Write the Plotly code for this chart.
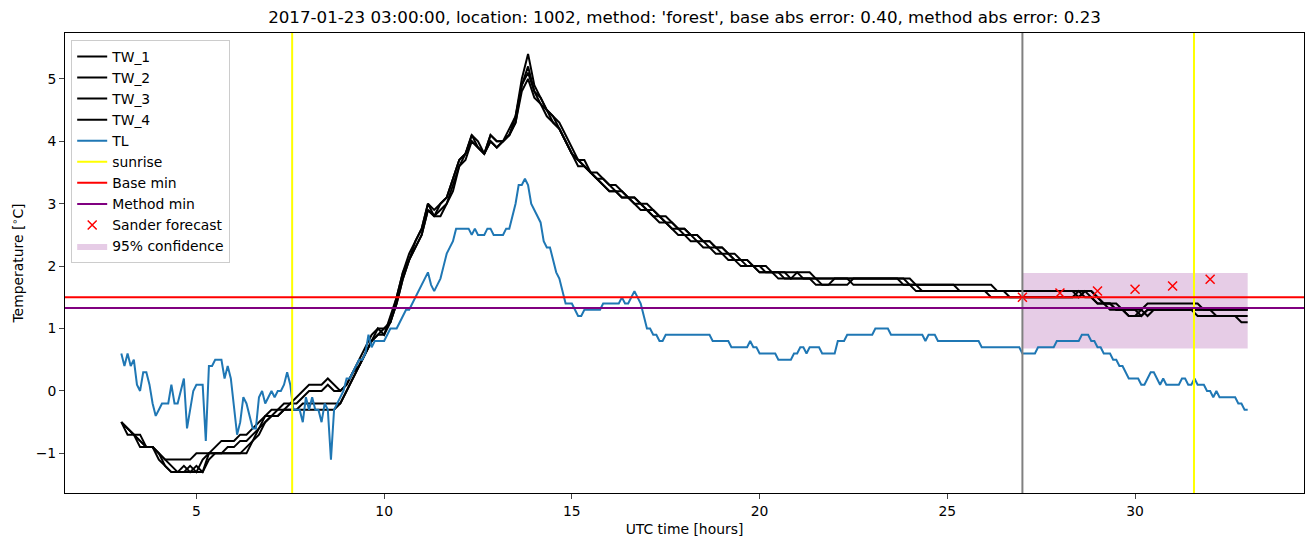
import numpy as np
import plotly.graph_objects as go

# ---------------- data ----------------
# TL: 5-minute samples from 3:00 to 33:00 (one row per hour)
tl_rows = [
    [0.6, 0.4, 0.6, 0.4, 0.5, 0.1, 0.0, 0.3, 0.3, 0.1, -0.2, -0.4],
    [-0.3, -0.2, -0.2, -0.2, 0.1, -0.2, -0.2, 0.0, 0.2, -0.6, -0.3, 0.0],
    [0.1, 0.1, 0.1, -0.8, 0.4, 0.4, 0.5, 0.5, 0.5, 0.2, 0.4, 0.2],
    [-0.3, -0.7, -0.5, -0.1, -0.2, -0.4, -0.6, -0.6, -0.1, 0.0, -0.2, -0.1],
    [0.0, -0.1, 0.0, 0.0, 0.1, 0.3, 0.1, -0.3, -0.3, -0.3, -0.5, -0.1],
    [-0.3, -0.1, -0.3, -0.3, -0.5, -0.2, -0.3, -1.1, -0.3, -0.2, -0.1, 0.0],
    [0.2, 0.2, 0.3, 0.4, 0.5, 0.5, 0.6, 0.9, 0.7, 0.8, 0.8, 0.8],
    [0.8, 0.9, 1.0, 1.0, 1.0, 1.1, 1.2, 1.3, 1.3, 1.4, 1.5, 1.6],
    [1.7, 1.8, 1.9, 1.7, 1.6, 1.7, 1.8, 2.0, 2.2, 2.3, 2.4, 2.6],
    [2.6, 2.6, 2.6, 2.6, 2.5, 2.6, 2.5, 2.5, 2.5, 2.6, 2.6, 2.5],
    [2.5, 2.5, 2.5, 2.6, 2.6, 2.8, 3.0, 3.3, 3.3, 3.4, 3.3, 3.0],
    [2.9, 2.8, 2.7, 2.4, 2.3, 2.3, 2.1, 1.9, 1.8, 1.6, 1.4, 1.4],
    [1.4, 1.3, 1.2, 1.2, 1.3, 1.3, 1.3, 1.3, 1.3, 1.3, 1.4, 1.4],
    [1.4, 1.4, 1.4, 1.4, 1.5, 1.4, 1.4, 1.5, 1.6, 1.5, 1.4, 1.2],
    [1.0, 1.0, 0.9, 0.9, 0.8, 0.8, 0.9, 0.9, 0.9, 0.9, 0.9, 0.9],
    [0.9, 0.9, 0.9, 0.9, 0.9, 0.9, 0.9, 0.9, 0.9, 0.8, 0.8, 0.8],
    [0.8, 0.8, 0.8, 0.7, 0.7, 0.7, 0.7, 0.7, 0.7, 0.8, 0.7, 0.7],
    [0.6, 0.6, 0.6, 0.6, 0.6, 0.6, 0.5, 0.5, 0.5, 0.5, 0.5, 0.6],
    [0.6, 0.7, 0.7, 0.6, 0.7, 0.7, 0.7, 0.7, 0.6, 0.6, 0.6, 0.6],
    [0.6, 0.8, 0.8, 0.8, 0.9, 0.9, 0.9, 0.9, 0.9, 0.9, 0.9, 0.9],
    [0.9, 1.0, 1.0, 1.0, 1.0, 1.0, 0.9, 0.9, 0.9, 0.9, 0.9, 0.9],
    [0.9, 0.9, 0.9, 0.9, 0.9, 0.8, 0.9, 0.9, 0.9, 0.8, 0.8, 0.8],
    [0.8, 0.8, 0.8, 0.8, 0.8, 0.8, 0.8, 0.8, 0.8, 0.8, 0.8, 0.7],
    [0.7, 0.7, 0.7, 0.7, 0.7, 0.7, 0.7, 0.7, 0.7, 0.7, 0.7, 0.7],
    [0.6, 0.6, 0.6, 0.6, 0.6, 0.7, 0.7, 0.7, 0.7, 0.7, 0.7, 0.8],
    [0.8, 0.8, 0.8, 0.8, 0.8, 0.8, 0.8, 0.9, 0.9, 0.9, 0.8, 0.8],
    [0.7, 0.7, 0.6, 0.6, 0.6, 0.5, 0.5, 0.4, 0.4, 0.3, 0.2, 0.2],
    [0.2, 0.2, 0.1, 0.1, 0.2, 0.3, 0.3, 0.2, 0.1, 0.2, 0.1, 0.1],
    [0.1, 0.1, 0.1, 0.2, 0.2, 0.1, 0.1, 0.2, 0.1, 0.1, 0.1, 0.0],
    [0.0, -0.1, 0.0, -0.1, -0.1, -0.1, -0.1, -0.1, -0.1, -0.2, -0.2, -0.3],
    [-0.3],
]

# TW_1..TW_4: 10-minute samples from 3:00 to 33:00 (one row per hour)
tw1_rows = [
    [-0.5, -0.6, -0.7, -0.8, -0.9, -0.9], [-1.0, -1.1, -1.1, -1.1, -1.1, -1.1],
    [-1.0, -1.0, -1.0, -0.9, -0.8, -0.8], [-0.8, -0.7, -0.7, -0.6, -0.5, -0.4],
    [-0.3, -0.3, -0.2, -0.2, -0.1, 0.0], [0.1, 0.1, 0.1, 0.2, 0.1, 0.0],
    [0.1, 0.3, 0.5, 0.7, 0.9, 1.0], [1.0, 1.1, 1.5, 1.9, 2.2, 2.4],
    [2.6, 3.0, 2.9, 3.0, 3.1, 3.4], [3.7, 3.8, 4.1, 4.0, 3.8, 4.1],
    [4.0, 4.0, 4.1, 4.4, 5.0, 5.4], [4.9, 4.7, 4.5, 4.4, 4.2, 4.0],
    [3.8, 3.7, 3.6, 3.5, 3.4, 3.3], [3.2, 3.2, 3.1, 3.1, 3.0, 3.0],
    [2.9, 2.8, 2.8, 2.7, 2.6, 2.6], [2.5, 2.5, 2.4, 2.4, 2.3, 2.3],
    [2.2, 2.2, 2.1, 2.1, 2.0, 2.0], [1.9, 1.9, 1.9, 1.9, 1.8, 1.8],
    [1.8, 1.8, 1.8, 1.8, 1.7, 1.7], [1.7, 1.7, 1.7, 1.8, 1.8, 1.8],
    [1.8, 1.8, 1.8, 1.8, 1.8, 1.7], [1.7, 1.7, 1.7, 1.7, 1.7, 1.7],
    [1.7, 1.7, 1.6, 1.6, 1.6, 1.6], [1.6, 1.6, 1.6, 1.6, 1.5, 1.5],
    [1.5, 1.5, 1.5, 1.5, 1.5, 1.5], [1.5, 1.5, 1.5, 1.6, 1.5, 1.5],
    [1.4, 1.4, 1.4, 1.3, 1.3, 1.3], [1.3, 1.3, 1.4, 1.4, 1.4, 1.4],
    [1.4, 1.4, 1.4, 1.4, 1.4, 1.3], [1.3, 1.3, 1.3, 1.3, 1.3, 1.3],
    [1.3],
]
tw2_rows = [
    [-0.5, -0.6, -0.7, -0.7, -0.9, -0.9], [-1.0, -1.1, -1.2, -1.3, -1.3, -1.2],
    [-1.3, -1.1, -1.0, -1.0, -1.0, -1.0], [-1.0, -1.0, -0.9, -0.8, -0.6, -0.5],
    [-0.4, -0.4, -0.3, -0.3, -0.3, -0.2], [-0.2, -0.2, -0.2, -0.2, -0.2, -0.2],
    [0.0, 0.2, 0.4, 0.6, 0.8, 0.9], [1.0, 1.1, 1.4, 1.8, 2.1, 2.3],
    [2.5, 2.9, 2.8, 2.9, 3.0, 3.3], [3.6, 3.8, 4.0, 3.9, 3.8, 4.0],
    [3.9, 4.0, 4.1, 4.3, 4.9, 5.2], [4.8, 4.6, 4.5, 4.3, 4.2, 4.0],
    [3.8, 3.7, 3.6, 3.5, 3.4, 3.4], [3.3, 3.2, 3.2, 3.1, 3.1, 3.0],
    [2.9, 2.9, 2.8, 2.7, 2.7, 2.6], [2.6, 2.5, 2.5, 2.4, 2.4, 2.3],
    [2.3, 2.2, 2.2, 2.1, 2.1, 2.0], [2.0, 2.0, 1.9, 1.9, 1.9, 1.9],
    [1.9, 1.9, 1.9, 1.8, 1.8, 1.8], [1.8, 1.8, 1.8, 1.8, 1.8, 1.8],
    [1.8, 1.8, 1.8, 1.8, 1.8, 1.8], [1.7, 1.6, 1.6, 1.6, 1.6, 1.6],
    [1.6, 1.6, 1.6, 1.6, 1.6, 1.6], [1.6, 1.5, 1.5, 1.5, 1.5, 1.5],
    [1.5, 1.5, 1.5, 1.5, 1.5, 1.5], [1.5, 1.5, 1.5, 1.5, 1.6, 1.5],
    [1.4, 1.4, 1.3, 1.3, 1.3, 1.2], [1.2, 1.3, 1.2, 1.3, 1.3, 1.3],
    [1.3, 1.3, 1.3, 1.3, 1.2, 1.2], [1.2, 1.2, 1.2, 1.2, 1.2, 1.1],
    [1.1],
]
tw3_rows = [
    [-0.5, -0.7, -0.7, -0.8, -0.9, -0.9], [-1.0, -1.2, -1.3, -1.3, -1.3, -1.3],
    [-1.3, -1.3, -1.0, -1.0, -1.0, -0.9], [-0.9, -0.8, -0.8, -0.7, -0.6, -0.4],
    [-0.4, -0.3, -0.3, -0.2, -0.2, -0.1], [0.0, 0.0, 0.0, 0.1, 0.0, 0.0],
    [0.1, 0.3, 0.4, 0.6, 0.8, 1.0], [0.9, 1.2, 1.5, 1.9, 2.1, 2.4],
    [2.6, 3.0, 2.8, 3.0, 3.1, 3.4], [3.7, 3.8, 4.1, 3.9, 3.8, 4.1],
    [4.0, 4.0, 4.2, 4.4, 4.9, 5.1], [4.8, 4.7, 4.5, 4.4, 4.3, 4.1],
    [3.9, 3.7, 3.7, 3.5, 3.5, 3.4], [3.3, 3.3, 3.2, 3.1, 3.1, 3.0],
    [3.0, 2.9, 2.8, 2.8, 2.7, 2.6], [2.6, 2.5, 2.5, 2.4, 2.4, 2.3],
    [2.3, 2.2, 2.1, 2.1, 2.1, 2.0], [2.0, 1.9, 1.9, 1.9, 1.9, 1.8],
    [1.9, 1.8, 1.8, 1.8, 1.8, 1.8], [1.8, 1.8, 1.8, 1.7, 1.7, 1.7],
    [1.7, 1.7, 1.7, 1.7, 1.7, 1.7], [1.7, 1.7, 1.7, 1.7, 1.7, 1.7],
    [1.7, 1.7, 1.7, 1.7, 1.7, 1.7], [1.7, 1.7, 1.6, 1.6, 1.6, 1.6],
    [1.6, 1.6, 1.6, 1.6, 1.6, 1.6], [1.6, 1.6, 1.6, 1.5, 1.6, 1.6],
    [1.5, 1.4, 1.4, 1.3, 1.3, 1.2], [1.2, 1.2, 1.3, 1.3, 1.3, 1.3],
    [1.3, 1.3, 1.3, 1.3, 1.3, 1.3], [1.3, 1.2, 1.2, 1.2, 1.2, 1.2],
    [1.2],
]
tw4_rows = [
    [-0.5, -0.6, -0.7, -0.9, -0.9, -0.9], [-1.1, -1.2, -1.3, -1.3, -1.2, -1.3],
    [-1.2, -1.3, -1.1, -1.0, -1.0, -1.0], [-1.0, -1.0, -1.0, -0.8, -0.7, -0.5],
    [-0.4, -0.4, -0.3, -0.3, -0.3, -0.3], [-0.3, -0.3, -0.3, -0.3, -0.3, -0.2],
    [0.0, 0.2, 0.4, 0.6, 0.8, 0.9], [0.9, 1.1, 1.4, 1.8, 2.1, 2.3],
    [2.5, 2.9, 2.8, 2.8, 3.0, 3.2], [3.6, 3.7, 4.0, 3.9, 3.8, 4.0],
    [3.9, 4.0, 4.1, 4.3, 4.8, 5.0], [4.7, 4.6, 4.4, 4.3, 4.2, 4.0],
    [3.8, 3.6, 3.6, 3.5, 3.4, 3.3], [3.2, 3.2, 3.1, 3.1, 3.0, 2.9],
    [2.9, 2.8, 2.7, 2.7, 2.6, 2.5], [2.5, 2.4, 2.4, 2.3, 2.3, 2.2],
    [2.2, 2.1, 2.1, 2.0, 2.0, 2.0], [1.9, 1.9, 1.9, 1.8, 1.8, 1.8],
    [1.8, 1.8, 1.8, 1.7, 1.7, 1.7], [1.8, 1.8, 1.8, 1.8, 1.8, 1.8],
    [1.8, 1.8, 1.8, 1.8, 1.8, 1.8], [1.8, 1.7, 1.6, 1.6, 1.6, 1.6],
    [1.6, 1.6, 1.6, 1.6, 1.6, 1.6], [1.6, 1.6, 1.6, 1.6, 1.6, 1.6],
    [1.6, 1.6, 1.6, 1.6, 1.6, 1.6], [1.6, 1.6, 1.6, 1.6, 1.6, 1.6],
    [1.5, 1.4, 1.4, 1.4, 1.3, 1.3], [1.3, 1.2, 1.3, 1.3, 1.3, 1.3],
    [1.3, 1.3, 1.3, 1.3, 1.3, 1.3], [1.3, 1.3, 1.3, 1.3, 1.3, 1.3],
    [1.3],
]

start_hour = 3
end_hour = 33
sunrise_hours = [7.55, 31.57]
now_hour = 27
base_min = 1.5
method_min = 1.33
forecast_hours = [27, 28, 29, 30, 31, 32]
forecast_values = [1.50, 1.57, 1.60, 1.63, 1.68, 1.79]
conf_hours = [27, 33]
conf_lower = 0.68
conf_upper = 1.89

title_text = ("2017-01-23 03:00:00, location: 1002, method: 'forest', "
              "base abs error: 0.40, method abs error: 0.23")
x_ticks = [5, 10, 15, 20, 25, 30]
y_ticks = [-1, 0, 1, 2, 3, 4, 5]

# ---------------- build ----------------
def flat(rows):
    return [v for r in rows for v in r]

tl = flat(tl_rows)
tws = [flat(r) for r in (tw1_rows, tw2_rows, tw3_rows, tw4_rows)]
t_tl = np.linspace(start_hour, end_hour, len(tl))
t_tw = np.linspace(start_hour, end_hour, len(tws[0]))

FONT = "DejaVu Sans"
fig = go.Figure()

# confidence band (drawn first, below everything)
fig.add_trace(go.Scatter(
    x=[conf_hours[0], conf_hours[1], conf_hours[1], conf_hours[0], conf_hours[0]],
    y=[conf_lower, conf_lower, conf_upper, conf_upper, conf_lower],
    fill="toself", fillcolor="rgba(128,0,128,0.2)", mode="lines",
    line=dict(width=0), name="95% confidence", legendrank=10, hoverinfo="skip"))

for i, tw in enumerate(tws):
    fig.add_trace(go.Scatter(x=t_tw, y=tw, mode="lines", name=f"TW_{i+1}",
                             line=dict(color="black", width=2), legendrank=i + 1))

fig.add_trace(go.Scatter(x=t_tl, y=tl, mode="lines", name="TL",
                         line=dict(color="#1f77b4", width=2), legendrank=5))

# legend stand-ins for the reference lines
fig.add_trace(go.Scatter(x=[None], y=[None], mode="lines", name="sunrise",
                         line=dict(color="yellow", width=2), legendrank=6))
fig.add_trace(go.Scatter(x=[None], y=[None], mode="lines", name="Base min",
                         line=dict(color="red", width=2), legendrank=7))
fig.add_trace(go.Scatter(x=[None], y=[None], mode="lines", name="Method min",
                         line=dict(color="purple", width=2), legendrank=8))

fig.add_trace(go.Scatter(x=forecast_hours, y=forecast_values, mode="markers",
                         name="Sander forecast", legendrank=9,
                         marker=dict(symbol="x-thin-open", size=9, color="red",
                                     line=dict(color="red", width=1.5))))

shapes = []
shapes.append(dict(type="line", xref="x", yref="paper", x0=now_hour, x1=now_hour,
                   y0=0, y1=1, line=dict(color="gray", width=2), layer="above"))
for s in sunrise_hours:
    shapes.append(dict(type="line", xref="x", yref="paper", x0=s, x1=s, y0=0, y1=1,
                       line=dict(color="yellow", width=2), layer="above"))
shapes.append(dict(type="line", xref="paper", yref="y", x0=0, x1=1, y0=base_min,
                   y1=base_min, line=dict(color="red", width=2), layer="above"))
shapes.append(dict(type="line", xref="paper", yref="y", x0=0, x1=1, y0=method_min,
                   y1=method_min, line=dict(color="purple", width=2), layer="above"))

fig.update_layout(
    width=1313, height=547,
    margin=dict(l=65, r=9, t=33, b=54),
    paper_bgcolor="white", plot_bgcolor="white",
    font=dict(family=FONT, size=13.9, color="black"),
    title=dict(text=title_text, x=(65 + 1304) / 2 / 1313, xanchor="center",
               y=1 - 17 / 547, yanchor="middle", yref="container",
               font=dict(size=16.7, family=FONT)),
    shapes=shapes,
    showlegend=True,
    legend=dict(x=0.005, y=0.985, xanchor="left", yanchor="top",
                bgcolor="rgba(255,255,255,0.8)", bordercolor="#cccccc",
                borderwidth=1, font=dict(size=13.9, family=FONT),
                traceorder="normal", tracegroupgap=0),
)
fig.update_xaxes(range=[1.5, 34.5], tickvals=x_ticks, ticks="outside", ticklen=5,
                 tickwidth=1, showline=True, linecolor="black", linewidth=1,
                 mirror=True, showgrid=False, zeroline=False,
                 title=dict(text="UTC time [hours]", font=dict(size=13.9), standoff=6))
fig.update_yaxes(range=[-1.635, 5.735], tickvals=y_ticks, ticks="outside", ticklen=5,
                 tickwidth=1, showline=True, linecolor="black", linewidth=1,
                 mirror=True, showgrid=False, zeroline=False,
                 title=dict(text="Temperature [<sup>∘</sup>C]", font=dict(size=13.9),
                            standoff=8))

fig.write_html("out.html")
